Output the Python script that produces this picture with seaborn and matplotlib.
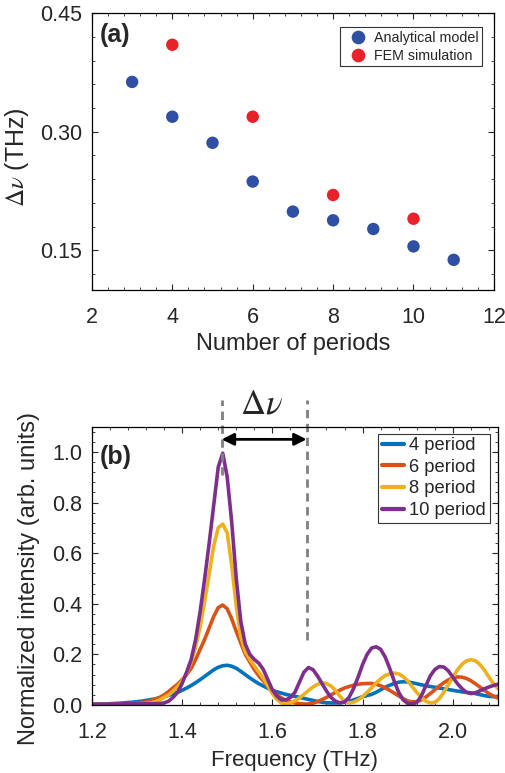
import numpy as np
import pandas as pd
import matplotlib
matplotlib.use("Agg")
import matplotlib.pyplot as plt
import seaborn as sns
from matplotlib.ticker import AutoMinorLocator

# ---- panel (a) data ----
periods_model = [3, 4, 5, 6, 7, 8, 9, 10, 11]
dnu_model = [0.363, 0.319, 0.286, 0.237, 0.199, 0.188, 0.177, 0.155, 0.138]
periods_fem = [4, 6, 8, 10]
dnu_fem = [0.410, 0.319, 0.220, 0.190]

# ---- panel (b) data (0.01 THz steps) ----
freq = np.round(np.linspace(1.2, 2.1, 91), 2)
int_4 = [0.003, 0.003, 0.004, 0.004, 0.005, 0.006, 0.007, 0.008, 0.010, 0.011,
         0.013, 0.015, 0.018, 0.021, 0.024, 0.028, 0.033, 0.038, 0.044, 0.050,
         0.058, 0.067, 0.077, 0.088, 0.100, 0.113, 0.126, 0.139, 0.149, 0.155,
         0.157, 0.153, 0.145, 0.133, 0.120, 0.107, 0.095, 0.084, 0.075, 0.066,
         0.058, 0.052, 0.047, 0.042, 0.038, 0.034, 0.030, 0.026, 0.022, 0.018,
         0.014, 0.011, 0.009, 0.008, 0.008, 0.009, 0.011, 0.015, 0.020, 0.026,
         0.033, 0.037, 0.042, 0.050, 0.060, 0.070, 0.078, 0.085, 0.090, 0.092,
         0.091, 0.088, 0.084, 0.080, 0.076, 0.073, 0.070, 0.067, 0.064, 0.061,
         0.058, 0.055, 0.052, 0.050, 0.048, 0.045, 0.041, 0.037, 0.034, 0.033,
         0.034]
int_6 = [0.002, 0.002, 0.002, 0.003, 0.003, 0.003, 0.004, 0.005, 0.006, 0.007,
         0.008, 0.010, 0.013, 0.017, 0.022, 0.030, 0.040, 0.053, 0.068, 0.082,
         0.100, 0.120, 0.145, 0.180, 0.220, 0.260, 0.305, 0.350, 0.385, 0.395,
         0.380, 0.340, 0.290, 0.245, 0.200, 0.170, 0.140, 0.115, 0.095, 0.075,
         0.055, 0.040, 0.028, 0.018, 0.012, 0.008, 0.005, 0.004, 0.004, 0.007,
         0.013, 0.021, 0.030, 0.040, 0.050, 0.059, 0.067, 0.073, 0.078, 0.082,
         0.084, 0.085, 0.085, 0.082, 0.076, 0.068, 0.058, 0.047, 0.036, 0.025,
         0.016, 0.012, 0.013, 0.020, 0.031, 0.045, 0.060, 0.075, 0.088, 0.099,
         0.107, 0.111, 0.110, 0.105, 0.096, 0.084, 0.071, 0.058, 0.045, 0.035,
         0.027]
int_8 = [0.002, 0.002, 0.002, 0.002, 0.002, 0.003, 0.003, 0.003, 0.003, 0.004,
         0.004, 0.005, 0.006, 0.008, 0.012, 0.020, 0.030, 0.040, 0.055, 0.072,
         0.095, 0.125, 0.170, 0.230, 0.310, 0.410, 0.520, 0.630, 0.700, 0.715,
         0.680, 0.550, 0.390, 0.270, 0.210, 0.180, 0.155, 0.130, 0.105, 0.075,
         0.045, 0.022, 0.008, 0.005, 0.008, 0.016, 0.028, 0.042, 0.057, 0.071,
         0.082, 0.087, 0.085, 0.075, 0.058, 0.034, 0.015, 0.008, 0.011, 0.020,
         0.033, 0.050, 0.068, 0.087, 0.103, 0.116, 0.123, 0.126, 0.123, 0.112,
         0.095, 0.072, 0.050, 0.030, 0.015, 0.008, 0.010, 0.025, 0.050, 0.080,
         0.110, 0.138, 0.160, 0.174, 0.179, 0.175, 0.160, 0.138, 0.110, 0.085,
         0.065]
int_10 = [0.003, 0.003, 0.003, 0.003, 0.004, 0.004, 0.004, 0.005, 0.005, 0.005,
          0.005, 0.005, 0.005, 0.005, 0.005, 0.006, 0.008, 0.015, 0.030, 0.050,
          0.085, 0.130, 0.180, 0.260, 0.370, 0.500, 0.640, 0.790, 0.940, 0.995,
          0.900, 0.720, 0.500, 0.330, 0.240, 0.200, 0.180, 0.165, 0.140, 0.100,
          0.060, 0.035, 0.020, 0.020, 0.030, 0.050, 0.090, 0.130, 0.148, 0.140,
          0.115, 0.085, 0.055, 0.030, 0.015, 0.008, 0.012, 0.030, 0.065, 0.110,
          0.160, 0.200, 0.225, 0.230, 0.220, 0.190, 0.145, 0.095, 0.050, 0.020,
          0.006, 0.004, 0.010, 0.035, 0.075, 0.115, 0.140, 0.152, 0.150, 0.135,
          0.110, 0.085, 0.065, 0.050, 0.045, 0.048, 0.056, 0.064, 0.071, 0.077,
          0.082]
series_labels = ["4 period", "6 period", "8 period", "10 period"]
peak_freq = 1.4876
dnu_end = 1.676

sns.set_style("ticks")
plt.rcParams["font.family"] = ["Liberation Sans", "DejaVu Sans"]
plt.rcParams["mathtext.fontset"] = "stix"

fig = plt.figure(figsize=(5.05, 7.73), dpi=100)
ax1 = fig.add_axes([0.182, 0.625, 0.796, 0.358])
ax2 = fig.add_axes([0.182, 0.088, 0.804, 0.360])

def matlab_axes(ax):
    for s in ax.spines.values():
        s.set_linewidth(0.9)
        s.set_color("black")
    ax.tick_params(direction="in", top=True, right=True, length=4, width=0.8,
                   labelsize=15.5)
    ax.tick_params(axis="x", pad=12)
    ax.tick_params(axis="y", pad=7)
    ax.tick_params(which="minor", direction="in", top=True, right=True,
                   length=2, width=0.6)
    ax.xaxis.set_minor_locator(AutoMinorLocator(5))
    ax.yaxis.set_minor_locator(AutoMinorLocator(5))

# (a)
df_a = pd.DataFrame({
    "periods": periods_model + periods_fem,
    "dnu": dnu_model + dnu_fem,
    "source": ["Analytical model"] * len(periods_model) + ["FEM simulation"] * len(periods_fem),
})
sns.scatterplot(data=df_a, x="periods", y="dnu", hue="source",
                palette=["#2F4FA2", "#E8212B"], s=80, linewidth=0, ax=ax1)
ax1.set_xlim(2, 12)
ax1.set_ylim(0.10, 0.45)
ax1.set_xticks([2, 4, 6, 8, 10, 12])
ax1.set_yticks([0.15, 0.30, 0.45])
ax1.set_yticklabels(["0.15", "0.30", "0.45"])
ax1.set_xlabel("Number of periods", fontsize=17, labelpad=4)
ax1.set_ylabel(r"$\Delta\nu$ (THz)", fontsize=18)
ax1.yaxis.set_label_coords(-0.152, 0.48)
matlab_axes(ax1)
ax1.text(0.02, 0.965, "(a)", transform=ax1.transAxes, fontsize=18,
         fontweight="bold", va="top", ha="left")
leg = ax1.legend(loc="upper right", fontsize=10.3, frameon=True, fancybox=False,
                 edgecolor="black", handletextpad=0.1, borderpad=0.25,
                 labelspacing=0.3, markerscale=1.1, borderaxespad=0,
                 bbox_to_anchor=(0.97, 0.95))
leg.get_frame().set_linewidth(0.8)

# (b)
df_b = pd.DataFrame({
    "freq": np.concatenate([freq] * 4),
    "intensity": int_4 + int_6 + int_8 + int_10,
    "series": np.repeat(series_labels, len(freq)),
})
sns.lineplot(data=df_b, x="freq", y="intensity", hue="series",
             hue_order=series_labels,
             palette=["#0072BD", "#D95319", "#EDB120", "#7E2F8E"],
             linewidth=2.6, ax=ax2)
ax2.set_xlim(1.2, 2.1)
ax2.set_ylim(0, 1.1)
ax2.set_xticks([1.2, 1.4, 1.6, 1.8, 2.0])
ax2.set_yticks([0.0, 0.2, 0.4, 0.6, 0.8, 1.0])
ax2.set_yticklabels(["0.0", "0.2", "0.4", "0.6", "0.8", "1.0"])
ax2.set_xlabel("Frequency (THz)", fontsize=16, labelpad=5)
ax2.set_ylabel("Normalized intensity (arb. units)", fontsize=17)
ax2.yaxis.set_label_coords(-0.128, 0.455)
matlab_axes(ax2)
ax2.text(0.02, 0.935, "(b)", transform=ax2.transAxes, fontsize=18,
         fontweight="bold", va="top", ha="left")
leg2 = ax2.legend(loc="upper right", fontsize=13.2, frameon=True, fancybox=False,
                  edgecolor="black", handlelength=1.2, handletextpad=0.3,
                  borderpad=0.2, labelspacing=0.25, borderaxespad=0,
                  bbox_to_anchor=(0.98, 0.975))
leg2.get_frame().set_linewidth(0.8)
for h in leg2.get_lines():
    h.set_linewidth(3)

ax2.plot([peak_freq, peak_freq], [0.91, 1.205], ls=(0, (3, 2)), color="#808080",
         lw=2, clip_on=False)
ax2.plot([dnu_end, dnu_end], [0.257, 1.205], ls=(0, (3, 2)), color="#808080",
         lw=2, clip_on=False)
ax2.annotate("", xy=(peak_freq, 1.05), xytext=(dnu_end, 1.05),
             arrowprops=dict(arrowstyle="<|-|>", color="black", lw=2,
                             mutation_scale=18, shrinkA=0, shrinkB=0))
ax2.text((peak_freq + dnu_end) / 2 - 0.005, 1.125, r"$\Delta\nu$", fontsize=25,
         ha="center", va="bottom")

fig.savefig("out.png", dpi=100)
